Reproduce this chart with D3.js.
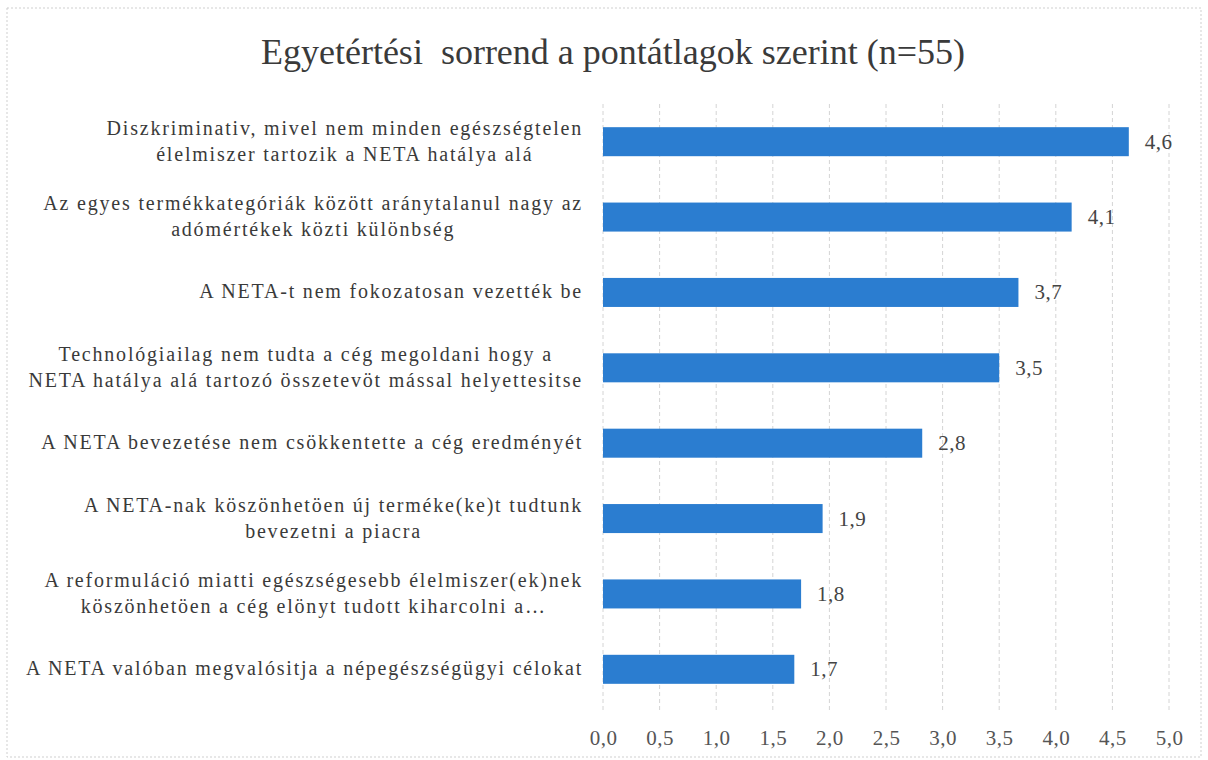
<!DOCTYPE html>
<html><head><meta charset="utf-8">
<script src="https://cdn.jsdelivr.net/npm/d3@7"></script>
<style>
html,body{margin:0;padding:0;background:#fff;}
svg text{font-family:"Liberation Serif","Times New Roman","DejaVu Serif",serif !important;}
</style></head>
<body>
<svg id="chart" width="1208" height="760"></svg>
<script>
const title = "Egyetértési  sorrend a pontátlagok szerint (n=55)";
const categories = [
  ["Diszkriminativ, mivel nem minden egészségtelen", "élelmiszer tartozik a NETA hatálya alá"],
  ["Az egyes termékkategóriák között aránytalanul nagy az", "adómértékek közti különbség"],
  ["A NETA-t nem fokozatosan vezették be"],
  ["Technológiailag nem tudta a cég megoldani hogy a", "NETA hatálya alá tartozó összetevöt mással helyettesitse"],
  ["A NETA bevezetése nem csökkentette a cég eredményét"],
  ["A NETA-nak köszönhetöen új terméke(ke)t tudtunk", "bevezetni a piacra"],
  ["A reformuláció miatti egészségesebb élelmiszer(ek)nek", "köszönhetöen a cég elönyt tudott kiharcolni a…"],
  ["A NETA valóban megvalósitja a népegészségügyi célokat"]
];
const values = [4.645, 4.14, 3.67, 3.5, 2.82, 1.94, 1.75, 1.69];
const tickValues = [0, 0.5, 1, 1.5, 2, 2.5, 3, 3.5, 4, 4.5, 5];

const svg = d3.select("#chart");
const mLeft = 603, mRight = 1169, mTop = 104, mBottom = 707;
const fmt = v => d3.format(".1f")(v).replace(".", ",");

svg.append("rect").attr("x", 7).attr("y", 8).attr("width", 1194).attr("height", 749)
  .attr("fill", "#fff").attr("stroke", "#cfcfcf").attr("stroke-dasharray", "2,2");

svg.append("text").attr("x", 613).attr("y", 64).attr("text-anchor", "middle")
  .attr("font-size", 36).attr("fill", "#3a3a3a")
  .style("white-space", "pre").text(title);

const x = d3.scaleLinear().domain([0, 5]).range([mLeft, mRight]);
const y = d3.scaleBand().domain(d3.range(categories.length)).range([mTop, mBottom]).paddingInner(0.615).paddingOuter(0.3075);

// gridlines
svg.append("g").selectAll("line").data(tickValues).join("line")
  .attr("x1", d => x(d)).attr("x2", d => x(d)).attr("y1", mTop).attr("y2", mBottom + 4)
  .attr("stroke", "#d4d4d4").attr("stroke-dasharray", "4,3");

// x axis labels
const xAxis = d3.axisBottom(x).tickValues(tickValues).tickFormat(fmt).tickSize(0).tickPadding(23);
const gx = svg.append("g").attr("transform", `translate(0,${mBottom})`).call(xAxis);
gx.select(".domain").remove();
gx.selectAll("text").attr("font-size", 21).attr("fill", "#555").attr("letter-spacing", 0.5);

// bars
svg.append("g").selectAll("rect").data(values).join("rect")
  .attr("x", x(0)).attr("y", (d, i) => y(i))
  .attr("width", d => x(d) - x(0)).attr("height", y.bandwidth())
  .attr("fill", "#2b7dd0");

// value labels
svg.append("g").selectAll("text").data(values).join("text")
  .attr("x", d => x(d) + 16).attr("y", (d, i) => y(i) + y.bandwidth() / 2 + 7)
  .attr("font-size", 21).attr("fill", "#444").attr("letter-spacing", 0.5).text(d => fmt(d));

// category labels
const lineH = 26;
const catG = svg.append("g");
categories.forEach((lines, i) => {
  const cy = y(i) + y.bandwidth() / 2;
  const g = catG.append("g");
  const t = g.selectAll("text").data(lines).join("text")
    .attr("y", (d, j) => cy + (j - (lines.length - 1) / 2) * lineH + 6)
    .attr("font-size", 20).attr("fill", "#3a3a3a").attr("letter-spacing", 1.8)
    .attr("text-anchor", "middle").text(d => d);
  let maxW = 0;
  t.each(function(){ maxW = Math.max(maxW, this.getComputedTextLength()); });
  t.attr("x", 583 - maxW / 2);
});
</script>
</body></html>
